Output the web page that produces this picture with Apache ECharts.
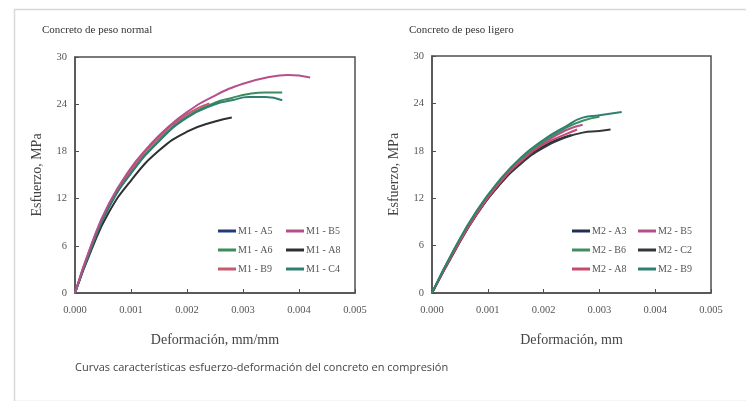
<!DOCTYPE html>
<html><head><meta charset="utf-8">
<script src="https://cdn.jsdelivr.net/npm/echarts@6/dist/echarts.min.js"></script>
<style>html,body{margin:0;padding:0;background:#fff}#c{width:746px;height:401px}</style>
</head><body><div id="c"></div>
<script>
// ---- Data: left chart (Concreto de peso normal) ----
const leftNames = ['M1 - A5','M1 - B5','M1 - A6','M1 - A8','M1 - B9','M1 - C4'];
const m1_A5 = [[0,0],[0.0003,6.0],[0.0006,10.9],[0.001,15.3],[0.0015,19.4],[0.002,22.4],[0.0026,24.3]];
const m1_B5 = [[0,0],[0.0003,6.3],[0.0006,11.3],[0.001,15.9],[0.0013,18.5],[0.0016,20.7],[0.002,23.0],[0.0025,25.1],[0.003,26.6],[0.0035,27.5],[0.0038,27.7],[0.0042,27.4]];
const m1_A6 = [[0,0],[0.0003,6.0],[0.0006,10.9],[0.001,15.3],[0.0015,19.4],[0.002,22.4],[0.0025,24.2],[0.0028,24.8],[0.0031,25.3],[0.0034,25.5],[0.0037,25.5]];
const m1_A8 = [[0,0],[0.0003,5.6],[0.0006,10.2],[0.001,14.3],[0.0015,18.1],[0.002,20.5],[0.0025,21.8],[0.0028,22.3]];
const m1_B9 = [[0,0],[0.0003,6.2],[0.0006,11.1],[0.001,15.6],[0.0015,19.8],[0.002,22.7],[0.0024,24.1]];
const m1_C4 = [[0,0],[0.0003,5.9],[0.0006,10.8],[0.001,15.2],[0.0015,19.3],[0.002,22.3],[0.0025,24.0],[0.0028,24.5],[0.0031,24.9],[0.0034,24.9],[0.0037,24.5]];
// ---- Data: right chart (Concreto de peso ligero) ----
const rightNames = ['M2 - A3','M2 - B5','M2 - B6','M2 - C2','M2 - A8','M2 - B9'];
const m2_A3 = [[0,0],[0.0004,5.3],[0.0008,10.0],[0.0012,13.7],[0.0016,16.6],[0.002,18.6],[0.0025,20.0]];
const m2_B5 = [[0,0],[0.0004,5.4],[0.0008,10.1],[0.0012,13.9],[0.0016,16.9],[0.002,19.0],[0.0024,20.6],[0.0027,21.3]];
const m2_B6 = [[0,0],[0.0004,5.5],[0.0008,10.2],[0.0012,14.0],[0.0016,17.0],[0.002,19.2],[0.0024,20.9],[0.0027,21.8],[0.003,22.3]];
const m2_C2 = [[0,0],[0.0004,5.2],[0.0008,9.9],[0.0012,13.6],[0.0016,16.4],[0.002,18.4],[0.0024,19.7],[0.0027,20.3],[0.003,20.5],[0.0032,20.7]];
const m2_A8 = [[0,0],[0.0004,5.3],[0.0008,10.0],[0.0012,13.8],[0.0016,16.7],[0.002,18.8],[0.0024,20.1],[0.0026,20.7]];
const m2_B9 = [[0,0],[0.0004,5.6],[0.0008,10.4],[0.0012,14.2],[0.0016,17.2],[0.002,19.4],[0.0024,21.1],[0.0027,22.2],[0.003,22.5],[0.0034,22.9]];
// ---- Axis ticks ----
const yTicks = [0,6,12,18,24,30];
const xTicks = [0,0.001,0.002,0.003,0.004,0.005];
const titles = ['Concreto de peso normal','Concreto de peso ligero'];
const xNames = ['Deformación, mm/mm','Deformación, mm'];
const yName = 'Esfuerzo, MPa';
const caption = 'Curvas características esfuerzo-deformación del concreto en compresión';

const leftData = [m1_A5,m1_B5,m1_A6,m1_A8,m1_B9,m1_C4];
const rightData = [m2_A3,m2_B5,m2_B6,m2_C2,m2_A8,m2_B9];
const leftColors = ['#233a78','#b4508c','#3c8c5c','#2e2e33','#c65a70','#2f8070'];
const rightColors = ['#1f3050','#b4508c','#3c9060','#33363a','#c84a68','#2f8070'];

const serif = 'Liberation Serif';
const grids = [
  {left:75, top:57, width:280, height:236, show:true, borderColor:'#505050', borderWidth:1.5, backgroundColor:'#fff'},
  {left:432, top:56, width:279, height:237, show:true, borderColor:'#505050', borderWidth:1.5, backgroundColor:'#fff'}
];
function xAxis(i){return {type:'value', gridIndex:i, min:xTicks[0], max:xTicks[xTicks.length-1], interval:0.001,
  name:xNames[i], nameLocation:'middle', nameGap:40, nameTextStyle:{fontFamily:serif,fontSize:14,color:'#444'},
  axisLine:{show:true,lineStyle:{color:'#505050',width:1.5}}, axisTick:{inside:true,length:4,lineStyle:{color:'#505050'}},
  splitLine:{show:false}, axisLabel:{fontFamily:serif,fontSize:10.5,color:'#555',margin:12,formatter:v=>v.toFixed(3)}};}
function yAxis(i){return {type:'value', gridIndex:i, min:yTicks[0], max:yTicks[yTicks.length-1], interval:6,
  name:yName, nameLocation:'middle', nameGap:31, nameTextStyle:{fontFamily:serif,fontSize:14,color:'#444'},
  axisLine:{show:true,lineStyle:{color:'#505050',width:1.5}}, axisTick:{inside:true,length:4,lineStyle:{color:'#505050'}},
  splitLine:{show:false}, axisLabel:{fontFamily:serif,fontSize:10.5,color:'#555',margin:8}};}

const series = [];
leftNames.forEach((n,k)=>series.push({name:n,type:'line',xAxisIndex:0,yAxisIndex:0,data:leftData[k],smooth:true,showSymbol:false,
  lineStyle:{width:2,color:leftColors[k]},itemStyle:{color:leftColors[k]},z:k===1?5:2}));
rightNames.forEach((n,k)=>series.push({name:n,type:'line',xAxisIndex:1,yAxisIndex:1,data:rightData[k],smooth:true,showSymbol:false,
  lineStyle:{width:2,color:rightColors[k]},itemStyle:{color:rightColors[k]}}));

function legend(names,left,top){return {orient:'vertical',left:left,top:top,data:names,icon:'rect',itemWidth:18,itemHeight:3,itemGap:9,
  textStyle:{fontFamily:serif,fontSize:10,color:'#555',padding:[0,0,0,-3]},padding:0,selectedMode:false};}

const chart = echarts.init(document.getElementById('c'),null,{renderer:'canvas'});
chart.setOption({
  animation:false,
  backgroundColor:'#fff',
  grid:grids,
  xAxis:[xAxis(0),xAxis(1)],
  yAxis:[yAxis(0),yAxis(1)],
  legend:[
    legend([leftNames[0],leftNames[2],leftNames[4]],218,226),
    legend([leftNames[1],leftNames[3],leftNames[5]],286,226),
    legend([rightNames[0],rightNames[2],rightNames[4]],572,226),
    legend([rightNames[1],rightNames[3],rightNames[5]],638,226)
  ],
  title:[
    {text:titles[0],left:42,top:25,padding:0,textStyle:{fontFamily:serif,fontSize:11,fontWeight:'normal',color:'#333'}},
    {text:titles[1],left:409,top:25,padding:0,textStyle:{fontFamily:serif,fontSize:11,fontWeight:'normal',color:'#333'}},
    {text:caption,left:75,top:362,padding:0,textStyle:{fontFamily:'Open Sans',fontSize:11,fontWeight:'normal',color:'#444'}}
  ],
  graphic:[{type:'rect',left:12,top:7,shape:{width:740,height:392},style:{fill:null,stroke:'#d8d8d8',lineWidth:1.5},silent:true,z:-10}],
  series:series
});
</script></body></html>
